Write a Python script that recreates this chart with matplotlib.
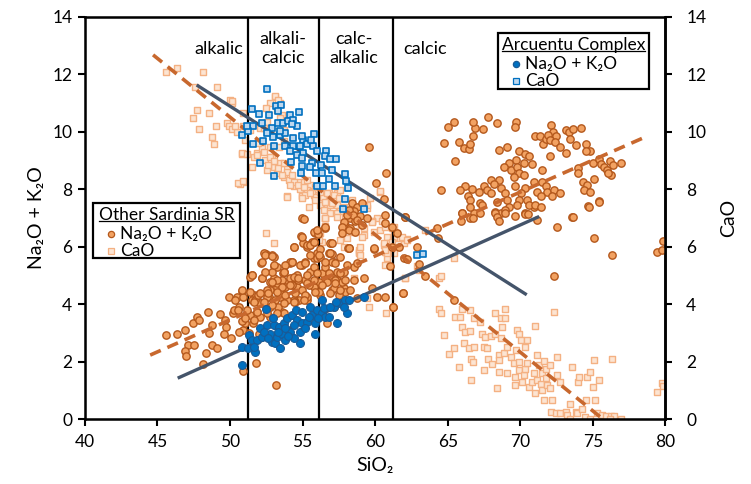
import numpy as np
import matplotlib.pyplot as plt
from matplotlib.patches import Rectangle

plt.rcParams['font.family'] = ['Lato', 'DejaVu Sans']

# --- Other Sardinia SR : Na2O + K2O vs SiO2 ---
osr_alk_sio2 = [
    45.6, 46.34, 46.91, 47.14, 46.91, 46.98, 47.49, 47.44, 47.72, 47.83, 48.47, 48.52, 48.34, 48.13,
    48.75, 48.75, 49.1, 49.28, 49.67, 49.72, 49.6, 50.06, 49.9, 50.47, 50.86, 50.24, 50.29, 50.93,
    50.93, 51.76, 51.0, 50.59, 51.51, 52.2, 52.15, 52.47, 53.0, 53.0, 52.89, 53.2, 51.62, 52.2,
    51.51, 51.85, 52.66, 52.77, 53.23, 53.46, 53.58, 53.65, 53.92, 54.15, 54.27, 54.38, 54.61, 54.73,
    54.96, 55.03, 54.96, 55.19, 55.53, 55.49, 55.76, 55.88, 55.99, 56.1, 56.57, 56.57, 56.8, 56.96,
    57.03, 57.19, 57.37, 57.83, 58.18, 58.52, 59.21, 59.79, 59.9, 61.23, 61.92, 62.08, 54.38, 55.3,
    52.54, 53.46, 52.77, 55.76, 56.68, 57.14, 56.22,
    54.91, 54.38, 55.34, 55.64, 55.76, 56.06, 56.22, 56.91, 56.91, 57.02, 58.12, 57.83, 58.75, 61.96,
    52.31, 52.88, 54.15, 54.84, 53.69, 53.0, 54.15, 56.33, 57.37, 57.71, 58.52, 60.13, 60.7, 50.58,
    51.39, 52.19, 52.54, 53.46, 54.61, 55.3, 56.1, 57.14, 57.94, 58.75,
    52.77, 53.23, 53.57, 53.8, 54.26, 54.72, 54.95, 55.41, 55.76, 56.68, 56.91, 57.25, 57.48, 58.29,
    53.11, 53.92, 54.49, 52.77, 52.08, 51.73, 51.96, 52.54, 53.34, 53.69, 52.54, 52.08, 51.39, 51.04,
    50.35, 50.93, 51.39, 53.23, 52.88, 54.61, 55.3, 53.8, 55.53, 55.99, 56.56, 55.18, 55.76,
    50.8, 51.3, 51.6, 52.0, 50.6,
    59.55, 60.75, 60.05, 60.63, 60.7, 58.4, 58.75, 59.09, 58.52, 58.93, 58.29, 59.44, 58.63, 58.17,
    58.47, 57.94, 58.29, 60.65, 61.16, 58.75,
    58.06, 57.83, 57.71, 58.17, 58.63, 59.09, 57.71, 55.07, 54.95, 56.56, 55.99, 55.76, 55.3, 57.02,
    58.17, 57.02, 56.22, 59.9, 61.62,
    54.38, 55.53, 55.76, 52.42, 52.88, 52.19, 53.05, 54.26, 55.18, 56.1, 56.91, 57.6, 56.56, 57.25,
    58.06, 51.5, 52.42, 53.69, 53.23, 54.38, 54.72, 55.99, 56.79, 57.6, 52.88, 53.57, 54.15, 55.3,
    56.33, 57.25, 57.94, 52.08, 52.65, 53.23, 53.8, 54.49, 55.18, 55.87, 56.91, 57.6, 50.81, 51.62,
    52.31, 52.88, 53.69, 54.38, 55.07, 51.16, 51.85, 53.23, 51.05, 51.62,
    65.42, 65.0, 64.73, 65.53, 65.76, 66.15, 66.45, 66.57, 66.75, 66.87, 66.75, 67.44, 67.76, 68.41,
    69.74, 69.67, 68.52, 69.1, 69.9, 70.36, 70.59, 69.74, 69.21, 68.87, 69.33, 69.79, 70.25, 70.82,
    69.9, 70.25, 69.56, 71.05, 71.35, 71.56, 71.74, 72.13, 72.27, 71.9, 72.43, 72.08, 72.36, 72.77,
    73.16, 73.12, 73.35, 73.62, 73.46, 73.81, 74.2, 74.5, 74.8, 74.5, 71.51, 72.08, 73.97, 73.97,
    75.03, 75.42, 75.58, 75.76, 75.99, 76.18, 76.41, 76.96, 76.22, 76.04, 75.07, 74.34, 70.94, 71.51,
    71.74, 71.16, 71.85, 72.31, 72.77, 72.2, 71.4, 69.67, 70.36, 70.02, 70.48, 69.9, 68.64, 68.98,
    67.95, 68.52, 68.18, 67.49, 67.72, 67.95, 67.14, 66.68, 66.22, 65.88, 66.38, 64.54, 66.57, 67.26,
    68.41, 69.1, 69.21, 70.94, 74.61, 74.38, 74.8, 75.42, 74.68, 65.99, 66.8, 68.29, 68.64, 68.98,
    70.36, 73.58, 66.57,
    62.08, 64.27, 64.34, 65.99, 65.95, 66.75, 67.26, 68.29, 68.41, 68.52, 69.67, 70.36, 70.54, 71.17,
    66.57, 67.37, 68.98, 69.79, 70.59, 71.05, 71.4, 72.54, 73.62, 74.77, 75.42, 75.07, 76.34, 72.31,
    62.89, 63.0, 63.46, 62.2, 61.92, 61.23, 65.42, 79.44, 79.78, 79.85, 61.05, 61.16, 61.51,
]
osr_alk = [
    2.93, 2.98, 3.12, 2.58, 2.38, 2.19, 2.58, 3.36, 3.56, 3.45, 3.74, 3.01, 2.29, 1.92,
    3.27, 2.58, 2.46, 3.66, 3.45, 3.22, 2.98, 2.81, 4.26, 4.26, 4.47, 3.68, 3.8, 3.1,
    1.67, 1.94, 3.59, 3.89, 5.02, 4.9, 5.45, 5.74, 5.33, 5.66, 4.78, 1.2, 4.32, 4.03,
    4.15, 3.74, 4.26, 4.49, 4.61, 4.26, 3.74, 5.08, 4.73, 5.42, 5.48, 4.9, 4.55, 4.15,
    6.99, 6.12, 5.37, 4.84, 5.13, 6.06, 5.6, 6.47, 5.77, 4.78, 6.64, 4.96, 5.77, 6.12,
    4.49, 5.48, 4.84, 4.55, 5.95, 5.31, 4.9, 4.55, 5.91, 3.89, 4.38, 7.05, 4.15, 4.15,
    3.8, 3.22, 3.56, 4.61, 3.33, 3.91, 4.32,
    6.38, 6.0, 6.0, 6.18, 6.53, 6.45, 5.91, 6.12, 5.77, 5.48, 5.95, 5.13, 5.42, 5.6,
    5.77, 5.71, 5.48, 5.37, 5.13, 4.9, 4.9, 5.07, 5.13, 4.78, 4.84, 4.26, 4.26, 3.8,
    4.96, 4.9, 4.49, 4.38, 4.61, 4.26, 4.44, 4.55, 4.44, 4.2,
    4.78, 4.73, 4.84, 4.61, 4.67, 4.84, 4.49, 4.67, 4.84, 4.78, 5.02, 4.84, 4.32, 4.49,
    4.15, 4.15, 4.09, 3.91, 4.03, 4.15, 4.32, 4.26, 3.91, 3.68, 3.68, 3.56, 3.62, 3.33,
    4.15, 4.26, 4.44, 5.31, 5.13, 5.02, 5.02, 5.37, 5.71, 5.6, 5.31, 5.48, 5.31,
    3.4, 3.0, 3.35, 2.95, 3.05,
    9.47, 8.57, 8.22, 7.66, 7.12, 7.52, 7.4, 7.52, 7.23, 7.06, 7.0, 7.0, 6.88, 7.28,
    7.11, 6.76, 6.64, 6.82, 6.7, 6.93,
    7.11, 6.87, 6.7, 6.58, 6.53, 6.76, 6.47, 6.96, 6.35, 6.68, 6.58, 6.18, 6.06, 6.12,
    5.95, 5.74, 5.65, 5.95, 6.0,
    6.0, 6.06, 6.18, 5.71, 5.68, 5.48, 5.36, 5.48, 5.42, 5.71, 5.77, 5.66, 5.48, 5.42,
    5.36, 5.02, 5.13, 5.13, 4.84, 4.96, 4.9, 5.08, 5.08, 5.08, 4.79, 4.61, 4.67, 4.73,
    4.67, 4.73, 4.84, 4.38, 4.38, 4.44, 4.32, 4.38, 4.32, 4.44, 4.38, 4.49, 4.49, 4.09,
    4.09, 3.97, 4.03, 4.09, 4.15, 3.8, 3.74, 3.68, 3.51, 3.45,
    10.36, 10.16, 9.61, 9.0, 9.63, 9.43, 9.4, 9.58, 9.86, 10.13, 10.36, 10.09, 10.51, 10.3,
    10.33, 10.16, 9.37, 9.49, 9.32, 9.23, 9.16, 9.02, 8.91, 8.79, 8.68, 8.79, 8.91, 8.89,
    8.56, 8.5, 8.44, 9.84, 9.84, 9.58, 9.75, 10.24, 10.01, 9.9, 9.84, 9.72, 9.66, 9.47,
    9.28, 10.05, 9.98, 10.1, 9.75, 9.55, 10.13, 9.58, 9.35, 9.32, 8.68, 9.16, 8.73, 8.56,
    8.91, 9.05, 8.89, 8.79, 8.68, 8.97, 8.83, 8.91, 8.5, 8.56, 8.36, 8.24, 8.27, 8.24,
    8.1, 7.92, 7.92, 7.98, 7.86, 7.75, 7.75, 8.1, 8.04, 7.86, 7.63, 7.63, 8.04, 7.86,
    8.33, 8.33, 8.19, 8.12, 7.98, 7.86, 7.92, 8.0, 8.1, 7.98, 7.75, 7.98, 7.63, 7.52,
    7.57, 7.63, 7.4, 7.4, 8.15, 7.98, 7.89, 7.61, 7.42, 7.17, 7.17, 7.22, 7.17, 7.28,
    7.17, 7.03, 6.99,
    7.03, 6.64, 6.32, 7.17, 6.91, 6.99, 7.19, 7.19, 7.03, 6.88, 7.07, 7.14, 7.14, 6.93,
    7.4, 7.46, 7.19, 7.46, 7.46, 7.46, 7.4, 6.7, 7.03, 7.4, 7.57, 6.3, 5.71, 4.98,
    6.0, 5.4, 4.98, 5.56, 4.38, 3.89, 4.15, 5.83, 5.89, 6.21, 5.33, 6.0, 6.47,
]

# --- Other Sardinia SR : CaO vs SiO2 ---
osr_cao_sio2 = [
    45.6, 46.34, 48.13, 47.6, 49.1, 49.97, 50.13, 47.76, 47.44, 48.52, 49.05, 49.78, 49.9, 50.13,
    50.47, 47.83, 48.75, 48.91, 50.93, 50.82, 50.93, 50.66,
    51.05, 51.62, 51.85, 52.2, 52.43, 52.89, 53.0, 52.54, 53.46, 53.23, 53.69, 53.92, 54.04, 54.38,
    54.73, 54.84, 53.92, 54.96, 55.53, 55.76, 56.22, 56.57, 56.8, 57.26, 57.49, 58.41, 59.44, 60.36,
    53.12, 53.46, 52.77, 53.23, 53.58, 52.54, 52.08, 53.0, 54.04, 53.69, 52.77, 53.35, 51.51,
    50.12, 50.93, 50.35, 50.81, 51.16, 50.58, 50.93, 51.85, 52.31, 52.49, 52.77, 53.0, 52.65, 53.34,
    53.69, 53.92, 54.26, 53.57, 54.38, 54.72, 54.15, 55.07, 55.3, 55.64, 54.95, 55.87, 56.4, 56.91,
    57.37, 56.91, 56.68, 57.37, 57.6, 56.22, 56.56, 53.92, 53.11, 53.46, 52.31, 51.39, 51.96, 53.69,
    53.11, 53.34, 59.44, 60.13, 60.36, 60.47, 59.78,
    52.49, 53.0, 56.56, 56.56, 56.91, 57.37, 57.94, 58.63, 59.2, 58.86, 58.86, 59.78, 59.9, 60.59,
    60.7, 60.81, 60.7, 61.16, 61.27, 61.62, 61.96, 61.27, 58.52, 59.44, 59.55, 60.13, 60.77, 62.08,
    56.33, 56.1,
    59.67, 59.21, 59.78, 60.36, 60.7, 61.16, 60.82, 61.28, 61.74, 62.2, 61.05, 60.59, 59.09, 59.21,
    58.52, 58.06, 58.86, 58.98, 57.6, 60.82, 60.7, 55.87, 56.22, 56.68, 57.14, 55.87, 56.56, 57.02,
    57.48, 57.6, 56.45, 56.91, 57.37, 56.56, 57.83, 56.22, 56.1, 57.83, 58.98, 55.3, 55.07, 55.18,
    54.95, 55.53, 55.41,
    61.28, 61.16, 61.85, 62.2, 63.46, 62.89, 63.0, 62.08, 64.38, 64.57, 65.42, 64.38, 64.57, 64.73,
    65.07, 65.42, 65.53, 65.88, 65.99, 65.99, 65.76, 66.11, 66.22, 66.52, 66.45, 66.61, 66.75, 66.64,
    66.8, 66.57, 66.8, 67.26, 67.37, 67.6, 67.49, 67.49, 67.79, 67.72, 68.06, 67.95, 68.29, 68.29,
    68.64, 68.75, 68.64, 68.52, 68.52, 68.41, 68.52, 68.87, 68.98, 68.98, 69.1, 69.1, 69.33, 69.56,
    69.67, 69.79, 69.9, 69.74, 69.67, 69.9, 70.02, 69.9, 70.13, 70.25, 70.36, 70.36, 70.48, 70.48,
    70.59, 70.82, 70.94, 71.05, 71.17, 71.28, 71.05, 71.17, 71.4, 71.51, 71.67, 71.62, 71.51, 71.74,
    71.85, 71.74, 72.08, 72.08, 72.2, 72.13, 72.31, 72.54, 72.54, 72.77, 72.43, 72.77, 73.12, 73.23,
    73.46, 73.58, 73.46, 73.81, 73.97, 74.04, 73.92, 74.27, 74.5, 74.43, 74.61, 74.8, 75.03, 75.07,
    75.12, 75.42, 75.3, 75.65, 75.88, 76.22, 76.34, 76.45, 76.91, 76.18, 74.8, 79.44, 79.78, 79.85,
]
osr_cao = [
    12.1, 12.22, 12.08, 11.56, 11.56, 11.12, 11.0, 10.77, 10.48, 10.65, 10.19, 10.3, 10.19, 10.09,
    10.01, 10.1, 9.81, 9.58, 10.19, 9.23, 8.24, 8.19,
    9.72, 9.14, 9.26, 9.43, 9.02, 9.14, 8.79, 8.68, 8.91, 8.56, 8.44, 8.73, 8.33, 8.1,
    8.27, 8.0, 7.75, 7.75, 8.15, 7.81, 7.63, 7.57, 7.86, 7.63, 7.34, 7.63, 7.34, 7.92,
    11.23, 11.0, 11.0, 10.77, 10.59, 10.36, 10.13, 10.01, 10.42, 10.07, 9.49, 9.49, 8.79,
    11.06, 10.65, 10.19, 9.26, 9.23, 8.22, 8.3, 9.2, 9.3, 10.83, 9.14, 8.97, 8.85, 8.74,
    8.91, 8.62, 8.5, 8.5, 8.27, 8.16, 8.16, 8.27, 7.98, 7.92, 7.75, 7.72, 7.72, 7.75,
    7.87, 7.52, 7.34, 7.46, 7.23, 7.46, 6.99, 7.72, 10.02, 10.48, 10.13, 10.07, 9.61, 9.67,
    11.24, 11.12, 7.46, 6.99, 7.95, 6.88, 6.88,
    6.47, 6.12, 6.99, 6.72, 7.46, 7.17, 6.99, 6.7, 6.41, 5.89, 5.77, 6.88, 6.53, 6.06,
    5.83, 5.6, 5.37, 6.12, 5.77, 6.29, 6.12, 6.53, 4.9, 4.2, 3.91, 4.26, 3.7, 4.93,
    6.18, 6.47,
    7.69, 7.46, 6.87, 6.58, 6.7, 6.64, 6.35, 6.35, 6.29, 6.26, 6.12, 6.12, 6.35, 6.64,
    6.53, 6.29, 5.83, 6.0, 6.24, 5.77, 5.89, 8.09, 7.92, 7.86, 7.8, 7.63, 7.57, 7.51,
    7.69, 7.98, 7.28, 7.16, 7.05, 6.99, 7.4, 6.47, 6.24, 6.0, 5.71, 8.33, 8.09, 7.8,
    7.69, 7.86, 7.4,
    6.7, 6.18, 6.35, 6.24, 6.58, 5.33, 5.19, 4.9, 4.93, 4.98, 5.6, 3.85, 3.68, 2.93,
    2.26, 2.46, 3.56, 3.54, 3.85, 3.19, 1.82, 2.64, 3.04, 3.08, 2.46, 2.11, 2.0, 1.36,
    2.52, 3.8, 3.51, 3.39, 2.96, 2.85, 2.52, 1.71, 2.08, 2.46, 1.92, 2.89, 2.96, 3.68,
    3.51, 3.22, 2.81, 2.23, 2.06, 1.07, 1.65, 2.29, 3.51, 3.85, 2.52, 1.59, 2.17, 1.94,
    1.47, 3.1, 2.98, 2.4, 1.18, 2.0, 2.75, 1.71, 1.3, 1.53, 2.52, 1.76, 1.94, 2.75,
    1.13, 1.3, 1.59, 3.24, 2.23, 1.88, 0.92, 1.36, 1.24, 1.01, 0.68, 2.03, 1.59, 1.42,
    1.18, 1.76, 1.88, 1.07, 0.66, 0.25, 3.74, 2.17, 1.53, 1.3, 0.2, 0.2, 0.25, 0.14,
    0.02, 1.82, 0.52, 0.25, 1.3, 1.47, 0.2, 0.37, 0.66, 0.08, 1.47, 1.65, 1.13, 2.06,
    0.66, 1.36, 0.2, 0.14, 0.1, 0.1, 2.08, 0.1, 0.0, 0.0, 0.0, 0.95, 1.27, 1.15,
]

# --- Arcuentu Complex : Na2O + K2O vs SiO2 ---
arc_alk_sio2 = [
    52.47, 50.81, 50.81, 51.34, 51.5, 51.27, 51.73, 51.85, 52.19, 52.08, 52.54, 52.77, 52.88, 53.1,
    53.46, 53.23, 53.0, 53.41, 53.69, 53.57, 53.8, 54.15, 53.92, 54.26, 54.56, 54.95, 54.61, 54.95,
    54.84, 54.79, 55.3, 55.53, 55.64, 55.87, 55.87, 55.99, 56.33, 56.33, 56.56, 56.79, 57.14, 57.37,
    57.6, 57.94, 58.17, 58.06, 57.83, 59.2, 51.62, 52.31, 52.65, 53.8, 54.38, 55.18, 56.45, 54.38,
    53.34, 52.95, 56.03, 56.91, 57.32, 55.41, 53.99,
]
arc_alk = [
    3.83, 2.52, 1.9, 2.93, 2.75, 2.46, 2.35, 2.75, 2.87, 3.16, 3.27, 2.98, 2.69, 2.64,
    2.46, 2.87, 3.27, 3.22, 3.33, 2.98, 2.75, 3.04, 3.51, 3.62, 3.8, 3.74, 3.45, 3.33,
    3.04, 2.66, 3.39, 3.91, 3.62, 3.33, 2.95, 3.8, 4.15, 3.68, 3.57, 3.57, 3.91, 3.33,
    4.03, 4.15, 4.15, 3.68, 3.91, 4.26, 2.52, 3.04, 2.81, 3.16, 3.27, 3.16, 3.86, 2.81,
    3.04, 3.51, 3.51, 3.91, 4.09, 3.56, 2.89,
]

# --- Arcuentu Complex : CaO vs SiO2 ---
arc_cao_sio2 = [
    52.53, 51.49, 52.02, 52.71, 53.15, 53.52, 53.33, 54.14, 54.78, 51.6, 50.85, 51.26, 52.18, 52.87,
    53.33, 53.68, 54.02, 54.37, 54.6, 53.45, 53.8, 54.37, 55.06, 55.82, 51.56, 52.3, 53.06, 53.8,
    54.32, 54.83, 55.29, 55.75, 55.06, 54.6, 54.14, 56.02, 56.62, 56.55, 57.31, 56.9, 52.07, 54.2,
    54.94, 54.94, 55.63, 56.25, 55.52, 54.9, 55.93, 56.32, 57.01, 53.03, 57.93, 56.85, 58.0, 56.02,
    56.44, 57.24, 58.11, 57.93, 57.82, 59.2, 51.2, 54.25, 54.94, 55.59, 52.94, 53.45, 52.57,
    62.9, 63.3,
]
arc_cao = [
    11.48, 10.78, 10.63, 10.58, 10.9, 10.93, 10.74, 10.6, 10.7, 10.2, 9.9, 10.02, 10.3, 10.14,
    10.31, 10.31, 10.37, 10.43, 10.2, 9.9, 9.97, 9.79, 9.73, 9.93, 9.56, 9.67, 9.5, 9.5,
    9.5, 9.5, 9.56, 9.5, 9.27, 9.21, 9.33, 9.33, 9.35, 9.15, 9.06, 9.04, 8.92, 8.95,
    9.1, 8.8, 8.92, 8.86, 8.77, 8.57, 8.57, 8.57, 8.66, 8.45, 8.54, 8.36, 8.28, 8.1,
    8.1, 8.13, 8.05, 7.67, 7.31, 7.33, 10.2, 10.26, 9.85, 9.73, 9.83, 10.03, 9.97,
    5.71, 5.74,
]

# linear trends (end points in SiO2 / wt%)
osr_alk_fit = ([44.5, 78.7], [2.23, 9.84])
osr_cao_fit = ([44.7, 75.7], [12.68, 0.0])
arc_alk_fit = ([46.5, 71.2], [1.45, 7.03])
arc_cao_fit = ([47.8, 70.35], [11.6, 4.36])

# alkali-lime index field boundaries
field_bounds = [51.25, 56.1, 61.2]
field_names = ['alkalic', 'alkali-\ncalcic', 'calc-\nalkalic', 'calcic']
field_label_x = [49.2, 53.67, 58.56, 63.46]

ORANGE_FILL, ORANGE_EDGE = '#F2A262', '#B4581C'
PEACH_FILL, PEACH_EDGE = '#FCE4D2', '#F4B183'
BLUE_FILL, BLUE_EDGE = '#0070C0', '#1A5A96'
LBLUE_FILL, LBLUE_EDGE = '#BDD7EE', '#0070C0'
TREND_ORANGE = '#C8682E'
TREND_BLUE = '#44546A'

fig = plt.figure(figsize=(7.51, 4.84), dpi=100)
ax = fig.add_axes([0.113, 0.134, 0.773, 0.831])

ax.scatter(osr_cao_sio2, osr_cao, s=20, marker='s', facecolor=PEACH_FILL,
           edgecolor=PEACH_EDGE, linewidths=1.0, zorder=2)
for xb in field_bounds:
    ax.plot([xb, xb], [0, 14], color='black', lw=1.6, zorder=2.5)
ax.scatter(osr_alk_sio2, osr_alk, s=28, marker='o', facecolor=ORANGE_FILL,
           edgecolor=ORANGE_EDGE, linewidths=1.0, zorder=3)
for fx, fy in (osr_alk_fit, osr_cao_fit):
    ax.plot(fx, fy, color=TREND_ORANGE, lw=2.6, ls=(0, (3.2, 2)), zorder=4)
for fx, fy in (arc_alk_fit, arc_cao_fit):
    ax.plot(fx, fy, color=TREND_BLUE, lw=2.4, zorder=4.5)
ax.scatter(arc_cao_sio2, arc_cao, s=22, marker='s', facecolor=LBLUE_FILL,
           edgecolor=LBLUE_EDGE, linewidths=1.2, zorder=5)
ax.scatter(arc_alk_sio2, arc_alk, s=32, marker='o', facecolor=BLUE_FILL,
           edgecolor=BLUE_EDGE, linewidths=0.8, zorder=6)

for name, xl in zip(field_names, field_label_x):
    ax.text(xl, 12.9, name, ha='center', va='center', fontsize=13, linespacing=1.3)

ax.set_xlim(40, 80)
ax.set_ylim(0, 14)
ax.set_xticks(np.arange(40, 81, 5))
ax.set_yticks(np.arange(0, 15, 2))
ax.tick_params(direction='out', length=5, width=1.5, labelsize=12.5, pad=4)
ax.tick_params(axis='x', pad=6)
for sp in ax.spines.values():
    sp.set_linewidth(1.8)
ax.set_xlabel('SiO₂', fontsize=14, labelpad=5)
ax.set_ylabel('Na₂O + K₂O', fontsize=14, labelpad=5)

ax2 = ax.twinx()
ax2.set_ylim(0, 14)
ax2.set_yticks(np.arange(0, 15, 2))
ax2.tick_params(direction='out', length=5, width=1.5, labelsize=12.5, pad=10)
ax2.spines['right'].set_linewidth(1.8)
ax2.set_ylabel('CaO', fontsize=14, labelpad=10)


def draw_key(x0, y0, x1, y1, title, entries):
    ax.add_patch(Rectangle((x0, y0), x1 - x0, y1 - y0, transform=ax.transAxes,
                           facecolor='white', edgecolor='black', lw=1.6, zorder=10))
    t = ax.text((x0 + x1) / 2, y1 - 0.03, title, transform=ax.transAxes,
                ha='center', va='center', fontsize=12.5, zorder=11)
    fig.canvas.draw()
    bb = t.get_window_extent(fig.canvas.get_renderer())
    (ux0, uy), (ux1, _) = ax.transAxes.inverted().transform([[bb.x0, bb.y0 + 2], [bb.x1, bb.y0]])
    ax.plot([ux0, ux1], [uy, uy], transform=ax.transAxes, color='black', lw=0.9, zorder=11)
    for i, (lab, mk, fc, ec) in enumerate(entries):
        yy = y1 - 0.077 - i * 0.043
        ax.plot([x0 + 0.031], [yy], marker=mk, ms=4.5, mfc=fc, mec=ec, mew=0.9,
                transform=ax.transAxes, zorder=11, clip_on=False)
        ax.text(x0 + 0.046, yy, lab, transform=ax.transAxes, ha='left', va='center',
                fontsize=12.5, zorder=11)


draw_key(0.014, 0.40, 0.268, 0.537, 'Other Sardinia SR',
         [('Na₂O + K₂O', 'o', ORANGE_FILL, ORANGE_EDGE), ('CaO', 's', PEACH_FILL, PEACH_EDGE)])
draw_key(0.712, 0.821, 0.971, 0.960, 'Arcuentu Complex',
         [('Na₂O + K₂O', 'o', BLUE_FILL, BLUE_EDGE), ('CaO', 's', LBLUE_FILL, LBLUE_EDGE)])

plt.savefig('out.png', dpi=100)
